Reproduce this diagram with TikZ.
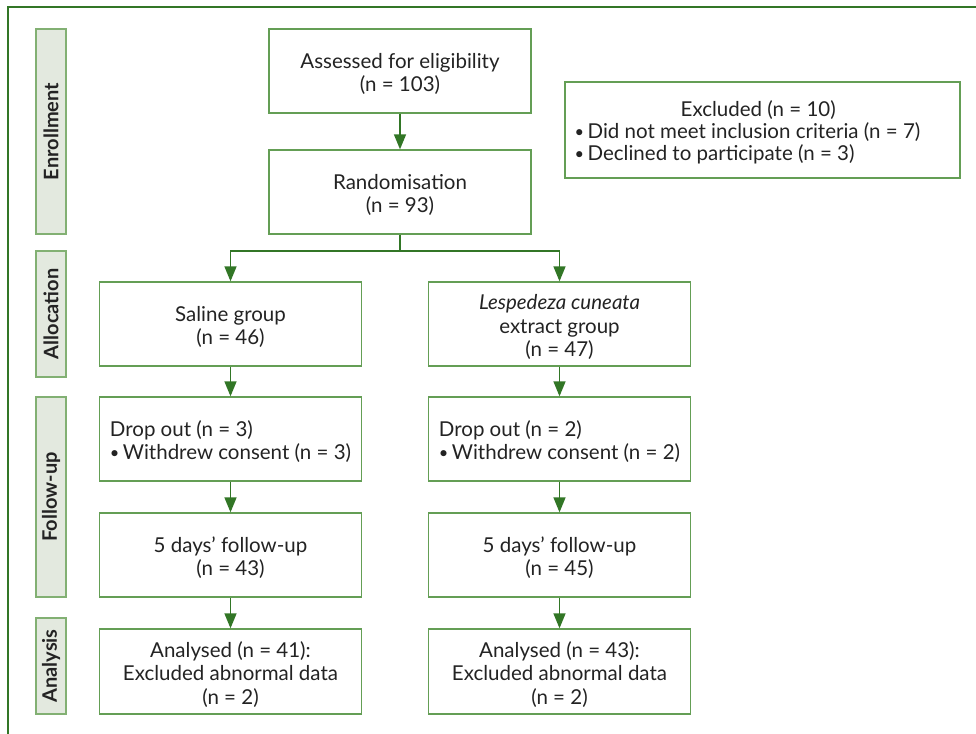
\documentclass[tikz,border=0pt]{standalone}
\usepackage{fontspec}
\setmainfont{Lato}
\usetikzlibrary{arrows.meta}
\definecolor{arrowgreen}{RGB}{50,118,38}
\definecolor{boxgreen}{RGB}{100,158,85}
\definecolor{stagefill}{RGB}{227,233,223}
\definecolor{stageline}{RGB}{130,176,115}
\definecolor{txt}{RGB}{35,35,35}
\newcommand{\blt}{\raisebox{0.15ex}{\scalebox{0.8}{\textbullet}}\,}
\newcommand{\ts}{\rule{0pt}{21pt}}
\tikzset{
  flowbox/.style={draw=boxgreen, line width=1.3pt, fill=white, minimum width=262pt, minimum height=84pt, inner sep=0pt, align=center, text=txt, font=\fontsize{20.5}{23.5}\selectfont},
  stagebox/.style={draw=stageline, line width=1.4pt, fill=stagefill, minimum height=30pt, inner sep=0pt, rotate=90, text=txt, font=\fontsize{20}{22}\selectfont\bfseries},
  flowarrow/.style={draw=arrowgreen, line width=1.5pt, -{Triangle[length=15pt,width=12pt]}},
  flowline/.style={draw=arrowgreen, line width=1.5pt}
}
\begin{document}
\begin{tikzpicture}[x=1pt,y=-1pt]
\useasboundingbox (0,0) rectangle (976,733);
% frame
\draw[arrowgreen, line width=1.2pt] (8,740) -- (8,7) -- (980,7);
% stages
\node[stagebox, minimum width=205pt] (enr) at (51,131.5) {Enrollment};
\node[stagebox, minimum width=126pt] (alloc) at (51,314) {Allocation};
\node[stagebox, minimum width=200pt] (fup) at (51,497) {Follow-up};
\node[stagebox, minimum width=96pt] (ana) at (51,666) {Analysis};
% boxes
\node[flowbox] (assess) at (400,71) {\ts Assessed for eligibility\\(n = 103)};
\node[flowbox] (rand) at (400,192) {\ts Randomisation\\(n = 93)};
\node[flowbox, minimum width=395pt, minimum height=96pt, align=left, font=\fontsize{20.5}{22}\selectfont] (excl) at (762.5,130) {\ts\hspace*{106pt}Excluded (n = 10)\\\blt Did not meet inclusion criteria (n = 7)\makebox[30pt]{}\\\blt Declined to participate (n = 3)};
\node[flowbox] (sal) at (230.5,324) {\ts Saline group\\(n = 46)};
\node[flowbox] (les) at (559.5,324) {\ts\textit{Lespedeza cuneata}\\extract group\\(n = 47)};
\node[flowbox, align=left] (dropl) at (230.5,439) {\ts Drop out (n = 3)\\\blt Withdrew consent (n = 3)};
\node[flowbox, align=left] (dropr) at (559.5,439) {\ts Drop out (n = 2)\\\blt Withdrew consent (n = 2)};
\node[flowbox] (fupl) at (230.5,555) {\ts 5 days’ follow-up\\(n = 43)};
\node[flowbox] (fupr) at (559.5,555) {\ts 5 days’ follow-up\\(n = 45)};
\node[flowbox, minimum height=85pt] (anal) at (230.5,671.5) {\ts Analysed (n = 41):\\Excluded abnormal data\\(n = 2)};
\node[flowbox, minimum height=85pt] (anar) at (559.5,671.5) {\ts Analysed (n = 43):\\Excluded abnormal data\\(n = 2)};
% connectors
\coordinate (split) at (400,251);
\draw[flowarrow] (assess) -- (rand);
\draw[flowline] (rand.south) -- (split);
\draw[flowarrow] (split) -| (sal.north);
\draw[flowarrow] (split) -| (les.north);
\draw[flowarrow] (sal) -- (dropl);
\draw[flowarrow] (les) -- (dropr);
\draw[flowarrow] (dropl) -- (fupl);
\draw[flowarrow] (dropr) -- (fupr);
\draw[flowarrow] (fupl) -- (anal);
\draw[flowarrow] (fupr) -- (anar);
\end{tikzpicture}
\end{document}
